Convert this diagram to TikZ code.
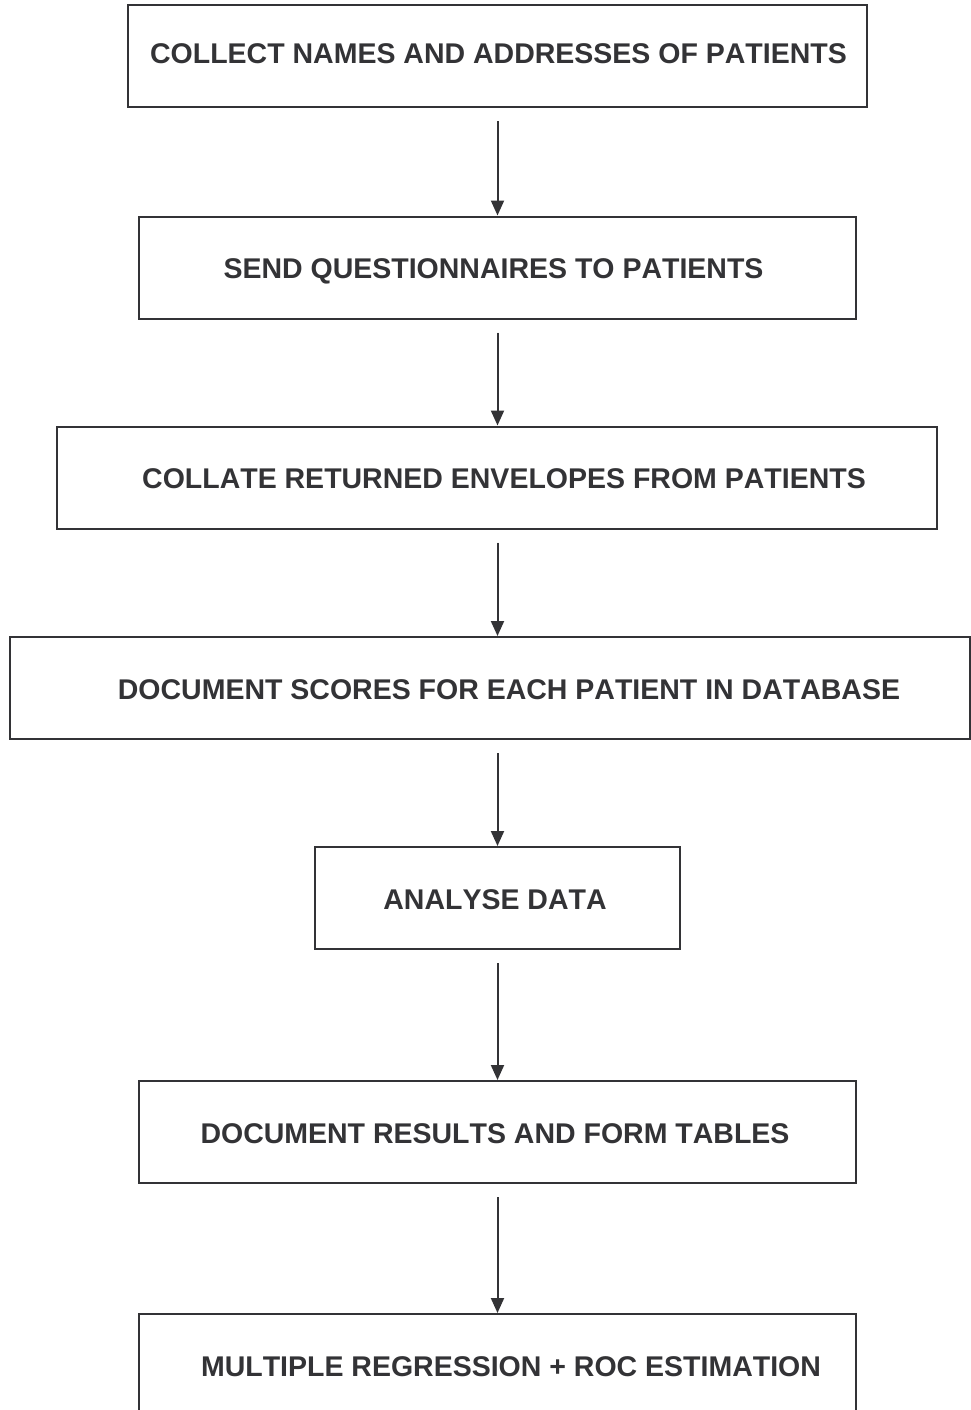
\documentclass[tikz,border=0pt]{standalone}
\usepackage{fontspec}
\setmainfont[Kerning=Off]{Liberation Sans}
\usepackage{tikz}
\usetikzlibrary{arrows.meta, positioning}
\definecolor{inkgray}{HTML}{333336}
\tikzstyle{stepbox}=[draw=inkgray, line width=2pt, inner sep=0pt, minimum height=102pt]
\tikzstyle{steptext}=[text=inkgray, inner sep=0pt, text height=20.4pt, text depth=0pt, yshift=-1pt, font=\fontsize{28.5}{34}\selectfont\bfseries]
\tikzstyle{flow}=[->, draw=inkgray, fill=inkgray, line width=2pt, shorten <=13pt]
\tikzset{>={Triangle[length=15pt,width=13pt]}}

\begin{document}
\begin{tikzpicture}[x=1pt, y=-1pt]
\clip (0,0) rectangle (971,1410);
\node[stepbox, minimum width=739pt, label={[steptext, xshift=1pt, yshift=4pt]center:COLLECT NAMES AND ADDRESSES OF PATIENTS}] (S1) at (497.5,56.5) {};
\node[stepbox, minimum width=717pt, label={[steptext, xshift=-4pt]center:SEND QUESTIONNAIRES TO PATIENTS}] (S2) at (497.5,267.5) {};
\node[stepbox, minimum width=880pt, label={[steptext, xshift=7pt]center:COLLATE RETURNED ENVELOPES FROM PATIENTS}] (S3) at (497,477.5) {};
\node[stepbox, minimum width=960pt, label={[steptext, xshift=19pt]center:DOCUMENT SCORES FOR EACH PATIENT IN DATABASE}] (S4) at (490,688) {};
\node[stepbox, minimum width=365pt, label={[steptext, xshift=-2.5pt]center:ANALYSE DATA}] (S5) at (497.5,898) {};
\node[stepbox, minimum width=717pt, label={[steptext, xshift=-2.5pt]center:DOCUMENT RESULTS AND FORM TABLES}] (S6) at (497.5,1132) {};
\node[stepbox, minimum width=717pt, label={[steptext, xshift=13.5pt]center:MULTIPLE REGRESSION + ROC ESTIMATION}] (S7) at (497.5,1365) {};
%\foreach \a/\b in {S1/S2, S2/S3} \draw[flow] (\a) -- (\b);
\draw[flow] (S1.south) -- (S2.north);
\draw[flow] (S2.south) -- (S2.south |- S3.north);
\draw[flow] (S2.south |- S3.south) -- (S2.south |- S4.north);
\draw[flow] (S2.south |- S4.south) -- (S5.north);
\draw[flow] (S5.south) -- (S6.north);
\draw[flow] (S6.south) -- (S7.north);
\end{tikzpicture}
\end{document}
